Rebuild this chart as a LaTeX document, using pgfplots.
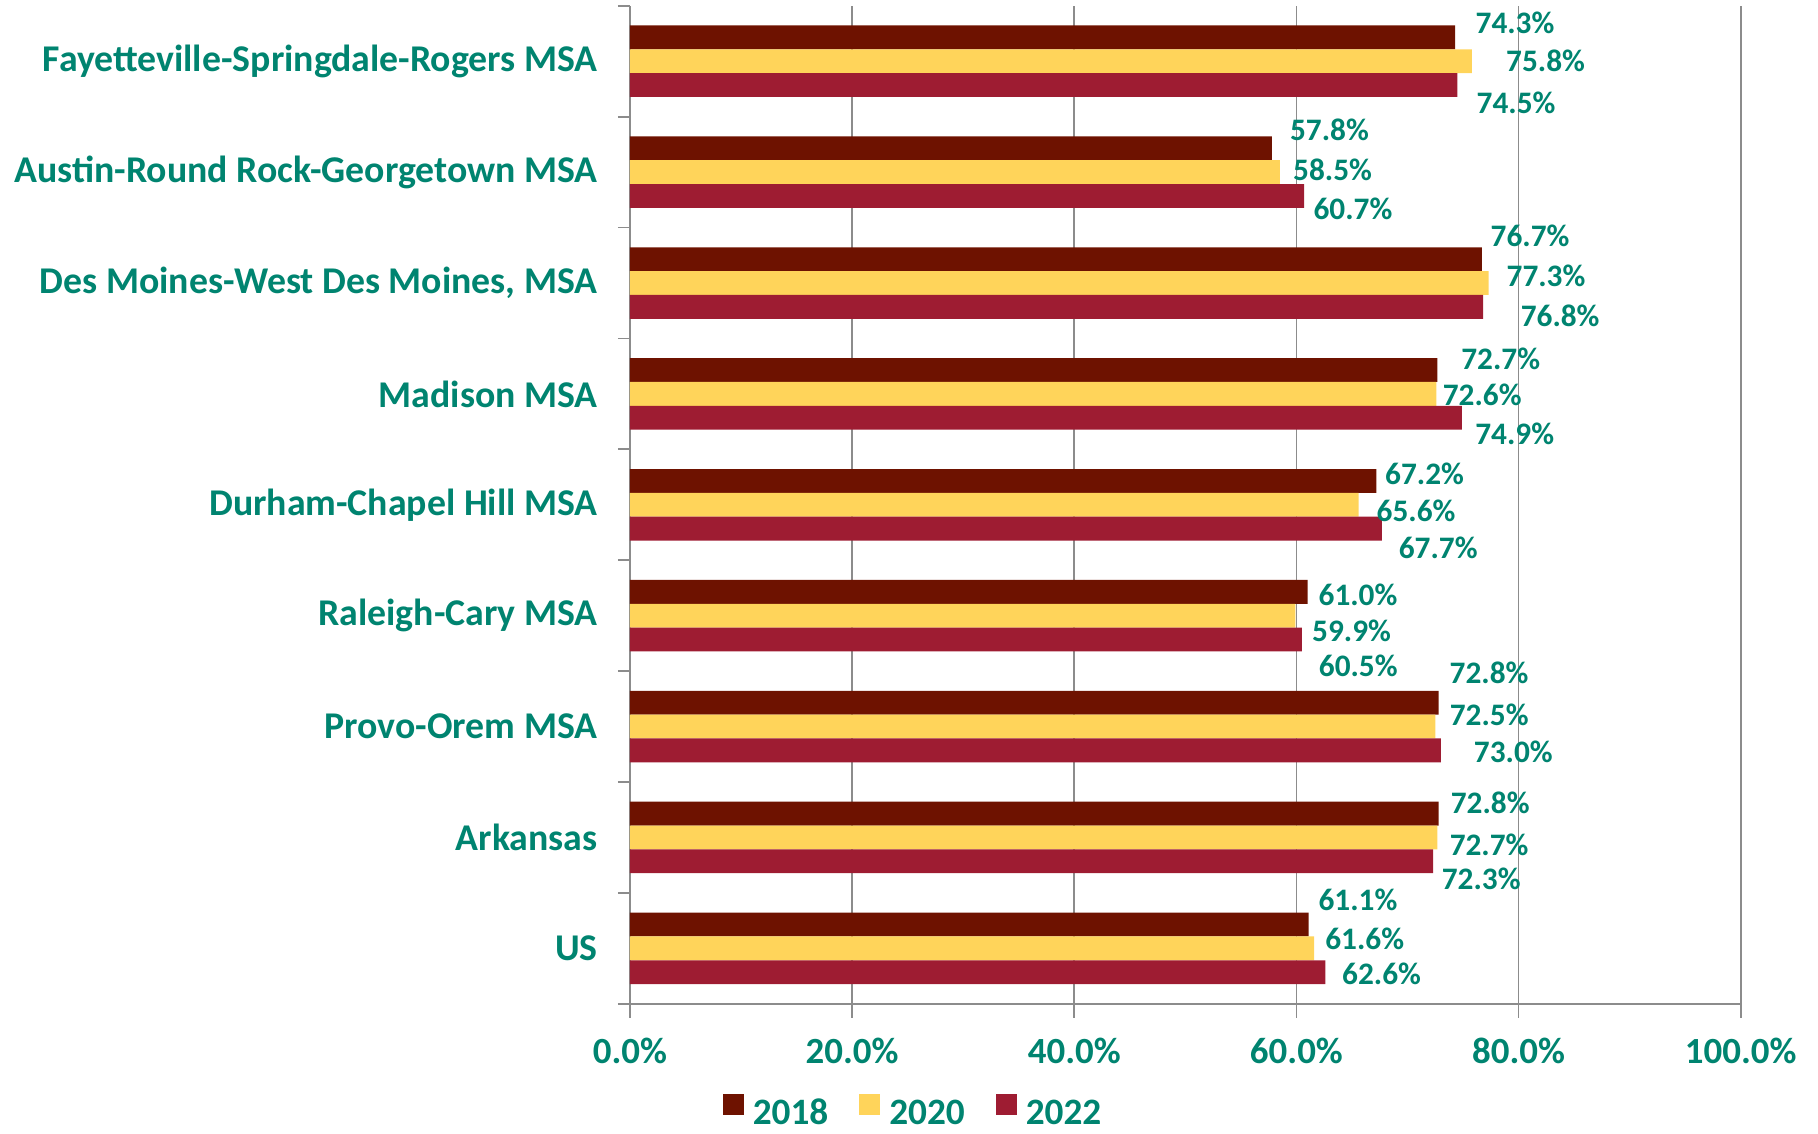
\documentclass[border=0pt]{standalone}
\usepackage{fontspec}
\setmainfont{Carlito}
\usepackage{pgfplots}
\pgfplotsset{compat=1.18}
\usepackage{pgfplotstable}
\definecolor{txt}{RGB}{0,132,112}
\definecolor{c18}{HTML}{6E1200}
\definecolor{c20}{HTML}{FFD45A}
\definecolor{c22}{HTML}{9E1C32}
\definecolor{gridgray}{HTML}{8C8C8C}

% y: 8 = Fayetteville ... 0 = US ; dx, dy = label offsets (reference px, dy positive = up)
\pgfplotstableread{
y v dx dy
8 74.3 17 12.5
7 57.8 15 16
6 76.7 7 20
5 72.7 20 10
4 67.2 7 6
3 61.0 9 -3
2 72.8 9 26
1 72.8 10 9
0 61.1 8 21
}\tabA
\pgfplotstableread{
y v dx dy
8 75.8 29 0
7 58.5 11 2
6 77.3 15 6
5 72.6 5 -1
4 65.6 15 -5
3 59.9 14 -13.5
2 72.5 12 10
1 72.7 10 -6
0 61.6 9 8
}\tabB
\pgfplotstableread{
y v dx dy
8 74.5 16 -15
7 60.7 7.5 -11
6 76.8 32 -8
5 74.9 11 -14
4 67.7 14 -17
3 60.5 14 -22.5
2 73.0 28 -1
1 72.3 7 -15
0 62.6 14 -1
}\tabC

\pgfplotsset{
  lab/.style={draw=none, mark=none, forget plot, point meta=explicit,
    nodes near coords={\pgfmathprintnumber[fixed,fixed zerofill,precision=1]{\pgfplotspointmeta}\%},
    every node near coord/.append style={font=\fontsize{8.9}{10}\selectfont\bfseries, text=txt,
      anchor=west, inner sep=0pt}},
}

\begin{document}
\begin{tikzpicture}
\useasboundingbox (-63mm,-13mm) rectangle (118.8mm,100.38mm);
\begin{axis}[
  at={(0,0)}, anchor=south west, scale only axis,
  width=111.07mm, height=99.8mm,
  xmin=0, xmax=100, ymin=-0.5, ymax=8.5,
  clip=false,
  axis x line*=bottom, axis y line*=left,
  axis line style={gridgray, line width=0.5pt, -},
  /pgf/number format/assume math mode=true,
  xtick={0,20,...,100},
  xticklabel={\pgfmathprintnumber[fixed,fixed zerofill,precision=1]{\tick}\%},
  ytick={0,...,8},
  yticklabels={US, Arkansas, Provo-Orem MSA, Raleigh-Cary MSA, Durham-Chapel Hill MSA, Madison MSA, {Des Moines-West Des Moines, MSA}, Austin-Round Rock-Georgetown MSA, Fayetteville-Springdale-Rogers MSA},
  minor ytick={-0.5,0.5,...,8.5},
  tick align=outside,
  major tick length=1.4mm, minor tick length=1.2mm,
  tick style={gridgray, line width=0.5pt},
  major y tick style={draw=none},
  xmajorgrids, grid style={gridgray, line width=0.5pt},
  ticklabel style={font=\fontsize{10.5}{12}\selectfont\bfseries, text=txt},
  y tick label style={xshift=-0.6mm, font=\fontsize{10.75}{12}\selectfont\bfseries},
  x tick label style={yshift=-0.8mm},
  legend columns=3,
  legend style={draw=none, fill=none, at={(0.258,-0.111)}, anchor=center,
    font=\fontsize{10.6}{12}\selectfont\bfseries, text=txt,
    /tikz/every even column/.append style={column sep=2.2mm},
    nodes={inner xsep=0.9mm}},
  legend image code/.code={\fill[#1] (0mm,0mm) rectangle (2.1mm,2.1mm);},
]
\addplot[xbar, bar width=0.215, fill=c18, draw=none, bar shift=0.215] table[x=v, y=y] {\tabA};
\addplot[xbar, bar width=0.215, fill=c20, draw=none, bar shift=0] table[x=v, y=y] {\tabB};
\addplot[xbar, bar width=0.215, fill=c22, draw=none, bar shift=-0.215] table[x=v, y=y] {\tabC};
\legend{2018, 2020, 2022}
\addplot[lab] table[x expr=\thisrow{v}+\thisrow{dx}/9.58, y expr=\thisrow{y}+0.215+\thisrow{dy}/95.7, meta=v] {\tabA};
\addplot[lab] table[x expr=\thisrow{v}+\thisrow{dx}/9.58, y expr=\thisrow{y}+\thisrow{dy}/95.7, meta=v] {\tabB};
\addplot[lab] table[x expr=\thisrow{v}+\thisrow{dx}/9.58, y expr=\thisrow{y}-0.215+\thisrow{dy}/95.7, meta=v] {\tabC};
\end{axis}
\end{tikzpicture}
\end{document}
